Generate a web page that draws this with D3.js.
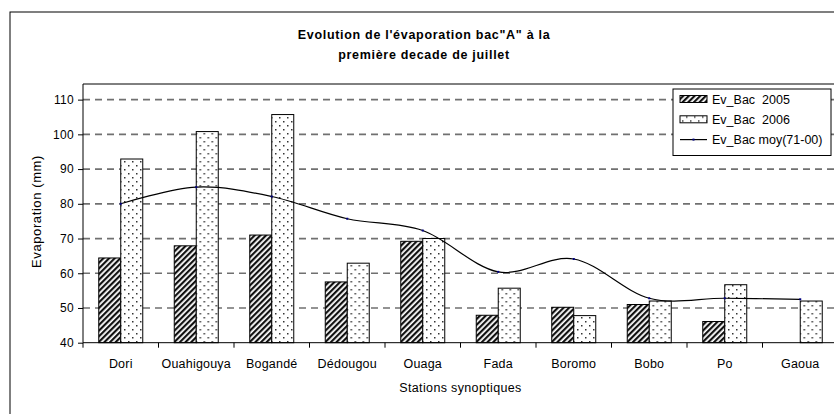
<!DOCTYPE html>
<html>
<head>
<meta charset="utf-8">
<script src="https://cdn.jsdelivr.net/npm/d3@7"></script>
<style>
  body { margin: 0; background: #fff; }
  svg { display: block; font-family: "Liberation Sans", Arial, sans-serif; }
</style>
</head>
<body>
<svg id="chart" width="834" height="414"></svg>
<script>
// stations (categories)
const stations = ["Dori", "Ouahigouya", "Bogandé", "Dédougou", "Ouaga", "Fada", "Boromo", "Bobo", "Po", "Gaoua"];
// Ev_Bac 2005 (no value for Gaoua)
const bac2005 = [64.4, 67.9, 71.0, 57.5, 69.2, 47.9, 50.2, 51.0, 46.1, null];
// Ev_Bac 2006
const bac2006 = [92.9, 100.8, 105.7, 62.9, 70.0, 55.7, 47.8, 52.0, 56.7, 52.0];
// Ev_Bac moy(71-00)
const bacMoy = [80.0, 84.8, 82.1, 75.7, 72.3, 60.4, 64.1, 52.8, 52.8, 52.5];
const yTicks = [40, 50, 60, 70, 80, 90, 100, 110];
const seriesNames = ["Ev_Bac  2005", "Ev_Bac  2006", "Ev_Bac moy(71-00)"];

const svg = d3.select("#chart");

// patterns for the bars
const defs = svg.append("defs");
let hatch = defs.append("pattern")
    .attr("id", "hatch")
    .attr("patternUnits", "userSpaceOnUse")
    .attr("width", 4).attr("height", 4)
    .attr("patternTransform", "rotate(45)");
hatch.append("rect").attr("width", 4).attr("height", 4).attr("fill", "#fff");
hatch.append("rect").attr("width", 2.2).attr("height", 4).attr("fill", "#111");

let dots = defs.append("pattern")
    .attr("id", "dots")
    .attr("patternUnits", "userSpaceOnUse")
    .attr("width", 8).attr("height", 8);
dots.append("rect").attr("width", 8).attr("height", 8).attr("fill", "#fff");
dots.append("rect").attr("x", 1).attr("y", 1).attr("width", 1.5).attr("height", 1.5).attr("fill", "#333");
dots.append("rect").attr("x", 5).attr("y", 5).attr("width", 1.5).attr("height", 1.5).attr("fill", "#333");

// outer chart border (cut by the picture on the right and bottom)
svg.append("rect")
    .attr("x", 10).attr("y", 12)
    .attr("width", 850).attr("height", 420)
    .attr("fill", "none").attr("stroke", "#000").attr("stroke-width", 1);

// TITLE
svg.append("text")
    .attr("x", 424).attr("y", 38.5)
    .attr("text-anchor", "middle")
    .style("font-size", "12.5px").style("font-weight", "bold")
    .style("letter-spacing", "0.7px")
    .text("Evolution de l'évaporation bac\"A\" à la");
svg.append("text")
    .attr("x", 424).attr("y", 58.5)
    .attr("text-anchor", "middle")
    .style("font-size", "12.5px").style("font-weight", "bold")
    .style("letter-spacing", "0.7px")
    .text("première decade de juillet");

// plot area
const plotL = 83, plotR = 838, plotT = 84, plotB = 342.7;

let x = d3.scaleBand().domain(stations).range([plotL, plotR]).padding(0);
let barW = 22;
let xYear = d3.scaleBand().domain(["2005", "2006"])
    .range([x.bandwidth() / 2 - barW, x.bandwidth() / 2 + barW]);
let y = d3.scaleLinear().domain([40, 114.5]).range([plotB, plotT]);

// gridlines
svg.append("g").selectAll("line")
    .data(yTicks.slice(1))
    .enter().append("line")
    .attr("x1", plotL).attr("x2", plotR)
    .attr("y1", d => y(d)).attr("y2", d => y(d))
    .attr("stroke", "#707070").attr("stroke-width", 1.7)
    .attr("stroke-dasharray", "7,5");

// plot frame top + right
svg.append("path")
    .attr("d", `M${plotL},${plotT}H${plotR}V${plotB}`)
    .attr("fill", "none").attr("stroke", "#000").attr("stroke-width", 1);

// bars
let groups = svg.append("g").selectAll("g")
    .data(stations)
    .enter().append("g")
    .attr("transform", d => `translate(${x(d)},0)`);

groups.filter((d, i) => bac2005[i] != null).append("rect")
    .attr("x", xYear("2005"))
    .attr("width", xYear.bandwidth())
    .attr("y", d => y(bac2005[stations.indexOf(d)]))
    .attr("height", d => plotB - y(bac2005[stations.indexOf(d)]))
    .attr("fill", "url(#hatch)").attr("stroke", "#000").attr("stroke-width", 1);

groups.append("rect")
    .attr("x", xYear("2006"))
    .attr("width", xYear.bandwidth())
    .attr("y", (d, i) => y(bac2006[i]))
    .attr("height", (d, i) => plotB - y(bac2006[i]))
    .attr("fill", "url(#dots)").attr("stroke", "#000").attr("stroke-width", 1);

// smoothed average line
let line = d3.line()
    .x((d, i) => x(stations[i]) + x.bandwidth() / 2)
    .y(d => y(d))
    .curve(d3.curveCardinal.tension(0));

svg.append("path")
    .datum(bacMoy)
    .attr("d", line)
    .attr("fill", "none").attr("stroke", "#000").attr("stroke-width", 1.2);

svg.append("g").selectAll("rect")
    .data(bacMoy)
    .enter().append("rect")
    .attr("x", (d, i) => x(stations[i]) + x.bandwidth() / 2 - 1)
    .attr("y", d => y(d) - 1)
    .attr("width", 2).attr("height", 2)
    .attr("fill", "#000080");

// Y AXIS
let yAxis = d3.axisLeft(y).tickValues(yTicks).tickSize(5).tickPadding(4);
let gy = svg.append("g").attr("transform", `translate(${plotL},0)`).call(yAxis);
gy.select(".domain").attr("d", `M0,${plotT}V${plotB}`).attr("stroke", "#000");
gy.selectAll("text").style("font-size", "12px").style("letter-spacing", "0.3px").attr("fill", "#000");

// X AXIS
let xAxis = d3.axisBottom(x).tickSize(0).tickPadding(0);
let gx = svg.append("g").attr("transform", `translate(0,${plotB})`).call(xAxis);
gx.select(".domain").attr("d", `M${plotL},0H${plotR}`).attr("stroke", "#000");
gx.selectAll("text").attr("dy", null).attr("y", 25.5)
    .style("font-size", "12.5px").style("letter-spacing", "0.2px").attr("fill", "#000");
// ticks between categories
gx.append("g").selectAll("line")
    .data(stations)
    .enter().append("line")
    .attr("x1", d => x(d)).attr("x2", d => x(d))
    .attr("y1", 0).attr("y2", 5)
    .attr("stroke", "#000");

// axis titles
svg.append("text")
    .attr("transform", `translate(40.5,211.5) rotate(-90)`)
    .attr("text-anchor", "middle")
    .style("font-size", "13px")
    .style("letter-spacing", "0.6px")
    .text("Evaporation (mm)");

svg.append("text")
    .attr("x", (plotL + plotR) / 2).attr("y", 392)
    .attr("text-anchor", "middle")
    .style("font-size", "12.5px")
    .style("letter-spacing", "0.35px")
    .text("Stations synoptiques");

// LEGEND
let legend = svg.append("g").attr("transform", "translate(673,89)");
legend.append("rect")
    .attr("width", 158).attr("height", 66.5)
    .attr("fill", "#fff").attr("stroke", "#000").attr("stroke-width", 1);

let items = legend.selectAll("g.item")
    .data(seriesNames)
    .enter().append("g")
    .attr("class", "item")
    .attr("transform", (d, i) => `translate(0,${10 + i * 20.3})`);

items.filter((d, i) => i < 2).append("rect")
    .attr("x", 7).attr("y", -3.5)
    .attr("width", 27).attr("height", 7)
    .attr("fill", (d, i) => i === 0 ? "url(#hatch)" : "url(#dots)")
    .attr("stroke", "#000").attr("stroke-width", 1);

items.filter((d, i) => i === 2).append("line")
    .attr("x1", 7).attr("x2", 34)
    .attr("stroke", "#000").attr("stroke-width", 1.2);
items.filter((d, i) => i === 2).append("rect")
    .attr("x", 19.5).attr("y", -1).attr("width", 2).attr("height", 2)
    .attr("fill", "#000080");

items.append("text")
    .attr("x", 39).attr("y", 4.5)
    .style("font-size", "12.5px")
    .style("white-space", "pre")
    .text(d => d);
</script>
</body>
</html>
